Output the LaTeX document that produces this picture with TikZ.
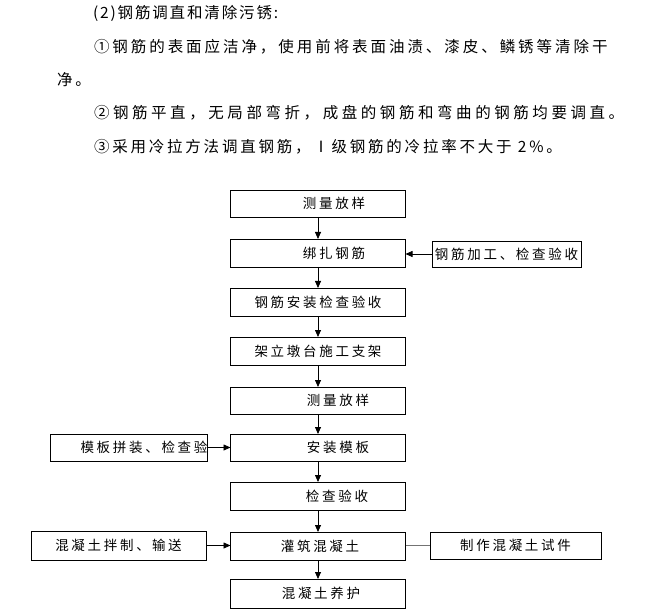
\documentclass[tikz,border=0pt]{standalone}
\usepackage{fontspec}
\newfontfamily\cjk{Noto Sans CJK SC}
\usetikzlibrary{arrows.meta}
\newcommand{\bodytext}[1]{\cjk\fontsize{15.5}{15.5}\selectfont\addfontfeatures{LetterSpace=#1}}
\newcommand{\boxtext}{\cjk\fontsize{13.5}{13.5}\selectfont\addfontfeatures{LetterSpace=20}}
\begin{document}
\begin{tikzpicture}[x=1pt,y=-1pt,
  every node/.style={inner sep=0pt, outer sep=0pt},
  para/.style={anchor=west},
  stepbox/.style={draw, line width=0.8pt, minimum width=175pt, minimum height=28pt, font=\boxtext},
  sidebox/.style={draw, line width=0.8pt, minimum height=27pt, font=\boxtext},
  arr/.style={-{Triangle[length=7pt,width=6pt]}, line width=0.8pt},
  link/.style={line width=0.8pt, draw=black!55}]
\useasboundingbox (0,0) rectangle (645,612);

% paragraph text
\node[para] (t1) at (93,13) {\bodytext{12}(2)钢筋调直和清除污锈:};
\node[para] (t2) at (94,47) {\bodytext{19}①钢筋的表面应洁净，使用前将表面油渍、漆皮、鳞锈等清除干};
\node[para] (t3) at (57,80) {\bodytext{19}净。};
\node[para] (t4) at (94,113) {\bodytext{23}②钢筋平直，无局部弯折，成盘的钢筋和弯曲的钢筋均要调直。};
\node[para] (t5) at (94,147) {\bodytext{18}③采用冷拉方法调直钢筋，\,Ⅰ级钢筋的冷拉率不大于 2\%。};

% main column
\node[stepbox, minimum height=27pt] (b1) at (318,203.5) {\hspace*{32pt}测量放样};
\node[stepbox] (b2) at (318,253) {\hspace*{32pt}绑扎钢筋};
\node[stepbox] (b3) at (318,302) {钢筋安装检查验收};
\node[stepbox] (b4) at (318,351) {架立墩台施工支架};
\node[stepbox, minimum height=27pt] (b5) at (318,400.5) {\hspace*{40pt}测量放样};
\node[stepbox, minimum height=27pt] (b6) at (318,447.5) {\hspace*{40pt}安装模板};
\node[stepbox] (b7) at (318,496) {\hspace*{38pt}检查验收};
\node[stepbox] (b8) at (318,546) {\hspace*{4pt}灌筑混凝土};
\node[stepbox, minimum height=29pt] (b9) at (318,593.5) {\hspace*{6pt}混凝土养护};

% side boxes
\node[sidebox, minimum width=149pt, minimum height=26pt] (s1) at (506.5,254) {钢筋加工、检查验收};
\node[sidebox, minimum width=154pt] (s2) at (129,447.5) {\hspace*{30pt}模板拼装、检查验};
\node[sidebox, minimum width=175pt, minimum height=29pt] (s3) at (118.5,545.5) {混凝土拌制、\,输送};
\node[sidebox, minimum width=171pt] (s4) at (515.5,545.5) {制作混凝土试件};

% connectors
\draw[arr] (b1) -- (b2);
\draw[arr] (b2) -- (b3);
\draw[arr] (b3) -- (b4);
\draw[arr] (b4) -- (b5);
\draw[arr] (b5) -- (b6);
\draw[arr] (b6) -- (b7);
\draw[arr] (b7) -- (b8);
\draw[arr] (b8) -- (b9);
\draw[arr] (s1.west) -- (b2.east |- s1.west);
\draw[arr] (s2.east) -- (b6.west |- s2.east);
\draw[arr] (s3.east) -- (b8.west |- s3.east);
\draw[link] (b8.east |- s4.west) -- (s4.west);
\end{tikzpicture}
\end{document}
